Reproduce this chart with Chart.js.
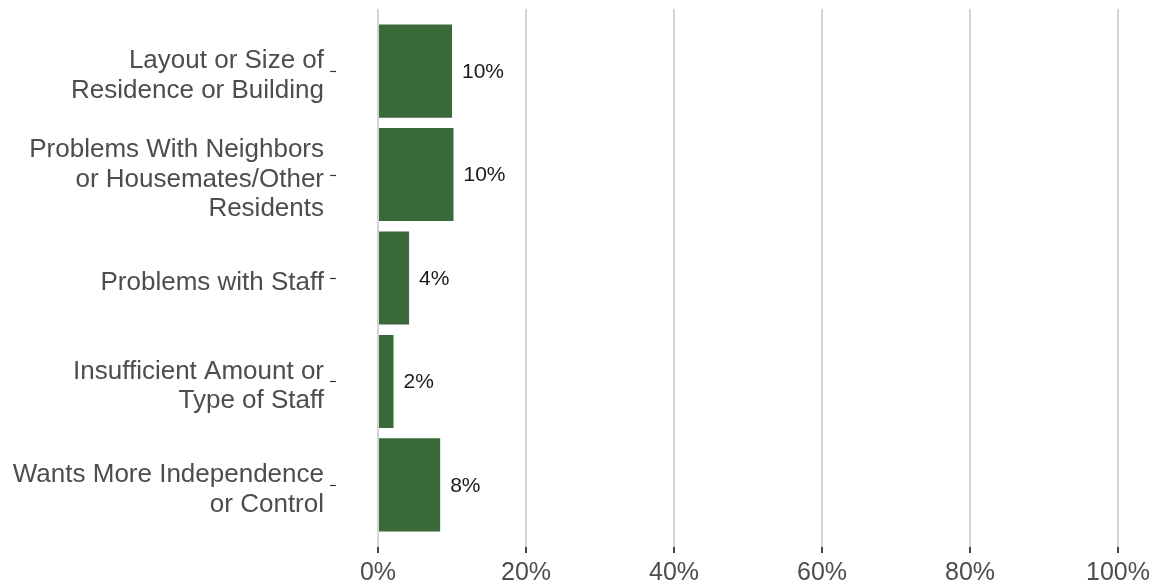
<!DOCTYPE html>
<html>
<head>
<meta charset="utf-8">
<script src="https://cdn.jsdelivr.net/npm/chart.js@4/dist/chart.umd.min.js"></script>
<style>
  html, body { margin: 0; padding: 0; background: #ffffff; }
  #wrap { width: 1155px; height: 586px; position: relative; }
</style>
</head>
<body>
<div id="wrap"><canvas id="c" width="1155" height="586"></canvas></div>
<script>
const categories = [
  ["Layout or Size of", "Residence or Building"],
  ["Problems With Neighbors", "or Housemates/Other", "Residents"],
  ["Problems with Staff"],
  ["Insufficient Amount or", "Type of Staff"],
  ["Wants More Independence", "or Control"]
];
const values = [10.0, 10.2, 4.2, 2.1, 8.4];
const valueLabels = ["10%", "10%", "4%", "2%", "8%"];
const xTicks = [0, 20, 40, 60, 80, 100];

const FONT = "'Liberation Sans', Arial, sans-serif";
const TEXT_GRAY = "#4d4d4d";

const points = values.map((v, i) => ({ x: v, y: i }));

const extrasPlugin = {
  id: 'extras',
  afterDatasetsDraw(chart) {
    const ctx = chart.ctx;
    const xs = chart.scales.x, ys = chart.scales.y;
    ctx.save();
    ctx.strokeStyle = "#333333";
    ctx.lineWidth = 1.2;
    categories.forEach((c, i) => {
      const y = Math.round(ys.getPixelForValue(i)) + 0.5;
      ctx.beginPath();
      ctx.moveTo(330, y);
      ctx.lineTo(336, y);
      ctx.stroke();
    });
    ctx.fillStyle = "#1a1a1a";
    ctx.font = "21px " + FONT;
    ctx.textAlign = "left";
    ctx.textBaseline = "middle";
    values.forEach((v, i) => {
      ctx.fillText(valueLabels[i], xs.getPixelForValue(v) + 10, ys.getPixelForValue(i) + 1);
    });
    ctx.restore();
  }
};

new Chart(document.getElementById('c'), {
  type: 'bar',
  data: {
    datasets: [{
      data: points,
      backgroundColor: "#3a6a39",
      borderWidth: 0,
      barPercentage: 0.9,
      categoryPercentage: 1.0
    }]
  },
  options: {
    indexAxis: 'y',
    responsive: false,
    animation: false,
    devicePixelRatio: 1,
    layout: { padding: { top: 9, right: 37, left: 0, bottom: 0 } },
    plugins: { legend: { display: false }, tooltip: { enabled: false } },
    scales: {
      x: {
        type: 'linear',
        min: 0, max: 100,
        afterBuildTicks(scale) { scale.ticks = xTicks.map(v => ({ value: v })); },
        afterFit(scale) { scale.height = 39; scale.paddingLeft = 0; scale.paddingRight = 0; },
        border: { display: false },
        grid: {
          color: "#d4d4d4",
          lineWidth: 2,
          drawTicks: true,
          tickLength: 6,
          tickColor: "#444444",
          tickWidth: 2
        },
        ticks: {
          font: { family: FONT, size: 25 },
          color: TEXT_GRAY,
          padding: 5,
          maxRotation: 0,
          callback: (v) => v + "%"
        }
      },
      y: {
        type: 'linear',
        reverse: true,
        offset: false,
        min: -0.6, max: 4.6,
        afterBuildTicks(scale) { scale.ticks = categories.map((c, i) => ({ value: i })); },
        afterFit(scale) { scale.width = 378; scale.paddingTop = 0; scale.paddingBottom = 0; },
        border: { display: false },
        grid: { display: false, drawTicks: false, offset: false },
        ticks: {
          font: { family: FONT, size: 26, lineHeight: 1.14 },
          color: TEXT_GRAY,
          padding: 54,
          labelOffset: 5,
          callback: (v) => categories[v]
        }
      }
    }
  },
  plugins: [extrasPlugin]
});
</script>
</body>
</html>
